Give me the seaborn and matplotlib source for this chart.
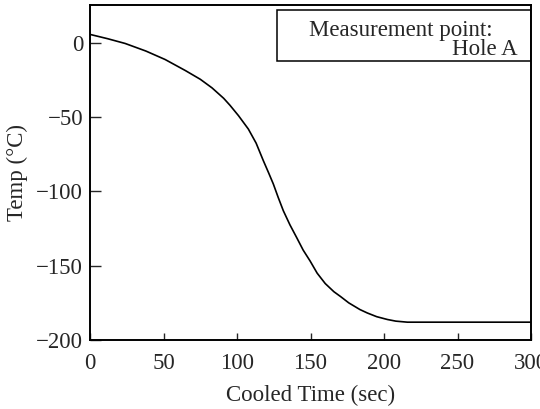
import matplotlib
matplotlib.use('Agg')
import matplotlib.pyplot as plt
import seaborn as sns
import pandas as pd
from matplotlib.patches import Rectangle

sns.set_style('ticks')
plt.rcParams['font.family'] = ['Liberation Serif', 'DejaVu Serif']

# cooling curve
time_s = [0, 12, 23.9, 38, 51.1, 64.8, 75, 83, 90.9, 95.2, 101, 107.7, 113, 117.9, 121.5,
          124.7, 128, 131.5, 136, 140.6, 145, 149.7, 154.5, 160, 165.9, 170.5, 176,
          183.6, 188.6, 195, 202.3, 208, 215.9, 250, 300]
temp_c = [5.7, 2.8, -0.4, -5.5, -11.2, -18.6, -24.5, -30.3, -37.3, -42, -49, -58,
          -67.5, -79.3, -87.5, -95, -104, -113, -122.5, -131.1, -139.5, -146.8, -155,
          -162, -167.5, -170.8, -175, -179.5, -181.8, -184.3, -186.2, -187.3, -188, -188, -188]
x_ticks = [0, 50, 100, 150, 200, 250, 300]
y_ticks = [0, -50, -100, -150, -200]

df = pd.DataFrame({'time': time_s, 'temp': temp_c})

fig = plt.figure(figsize=(5.4, 4.09), dpi=100)
ax = fig.add_axes([0.1667, 0.1687, 0.8167, 0.8191])
sns.lineplot(data=df, x='time', y='temp', color='black', linewidth=1.2, ax=ax)

ax.set_xlim(0, 300)
ax.set_ylim(-200, 25.5)
ax.set_xticks(x_ticks)
ax.set_yticks(y_ticks)
ax.tick_params(direction='in', width=1, labelsize=16.5)
ax.tick_params(axis='x', length=5, pad=9)
ax.tick_params(axis='y', length=8, pad=5)
for s in ax.spines.values():
    s.set_linewidth(1.4)
    s.set_color('black')

ax.set_xlabel('Cooled Time (sec)', fontsize=16.5, labelpad=8)
ax.set_ylabel('Temp (°C)', fontsize=16.5, labelpad=6)

ax.add_patch(Rectangle((0.423, 0.833), 0.577, 0.152, transform=ax.transAxes,
                       fill=False, edgecolor='black', linewidth=1.1))
ax.text(0.914, 0.907, 'Measurement point:', transform=ax.transAxes, ha='right',
        va='baseline', fontsize=16.5)
ax.text(0.970, 0.851, 'Hole A', transform=ax.transAxes, ha='right', va='baseline',
        fontsize=16.5)

fig.savefig('out.png', dpi=100)
